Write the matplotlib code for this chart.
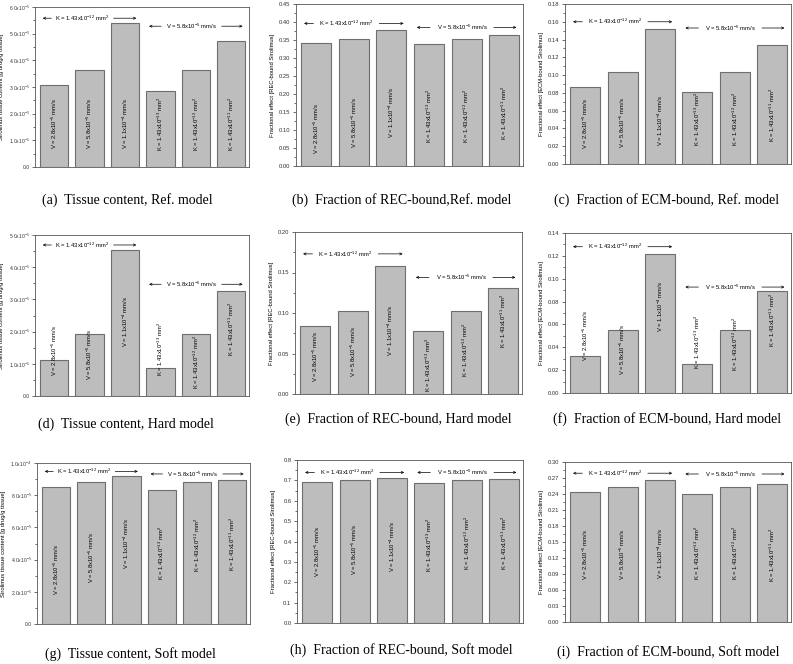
import numpy as np
import matplotlib
matplotlib.use("Agg")
import matplotlib.pyplot as plt
from matplotlib.ticker import FuncFormatter, MultipleLocator, AutoMinorLocator

plt.rcParams['font.family'] = ['Liberation Sans', 'DejaVu Sans']
plt.rcParams['mathtext.default'] = 'regular'

# bar labels (same order in every panel)
bar_labels = [r'V = 2.8x10$^{-5}$ mm/s', r'V = 5.8x10$^{-5}$ mm/s', r'V = 1.1x10$^{-4}$ mm/s',
              r'K = 1.43x10$^{-13}$ mm$^2$', r'K = 1.43x10$^{-12}$ mm$^2$', r'K = 1.43x10$^{-11}$ mm$^2$']
k_text = r'K = 1.43x10$^{-12}$ mm$^2$'
v_text = r'V = 5.8x10$^{-5}$ mm/s'

# values
tissue_ref = [3.07e-5, 3.65e-5, 5.40e-5, 2.84e-5, 3.65e-5, 4.71e-5]
rec_ref = [0.343, 0.353, 0.378, 0.340, 0.353, 0.365]
ecm_ref = [0.0868, 0.104, 0.1516, 0.0808, 0.104, 0.1336]
tissue_hard = [1.12e-5, 1.92e-5, 4.54e-5, 0.88e-5, 1.92e-5, 3.26e-5]
rec_hard = [0.0841, 0.1027, 0.158, 0.078, 0.1027, 0.1307]
ecm_hard = [0.032, 0.0548, 0.122, 0.0254, 0.0548, 0.0895]
tissue_soft = [8.49e-5, 8.80e-5, 9.21e-5, 8.32e-5, 8.80e-5, 8.96e-5]
rec_soft = [0.693, 0.702, 0.711, 0.689, 0.702, 0.705]
ecm_soft = [0.244, 0.254, 0.266, 0.240, 0.254, 0.258]

ylab_tissue = 'Sirolimus tissue content [g drug/g tissue]'
ylab_rec = 'Fractional effect [REC-bound Sirolimus]'
ylab_ecm = 'Fractional effect [ECM-bound Sirolimus]'

captions = ['(a)  Tissue content, Ref. model', '(b)  Fraction of REC-bound,Ref. model',
            '(c)  Fraction of ECM-bound, Ref. model', '(d)  Tissue content, Hard model',
            '(e)  Fraction of REC-bound, Hard model', '(f)  Fraction of ECM-bound, Hard model',
            '(g)  Tissue content, Soft model', '(h)  Fraction of REC-bound, Soft model',
            '(i)  Fraction of ECM-bound, Soft model']


def sci_fmt(v, pos):
    if v <= 1e-12:
        return '0.0' if abs(v) < 1e-12 else ''
    e = int(np.floor(np.log10(v) + 1e-9))
    return f'{v / 10**e:.1f}x10$^{{{e}}}$'


# panel settings: data, ylabel, ymax, step, formatter, K arrow y, V arrow y, label heights (axes frac)
panels = [
    (tissue_ref, ylab_tissue, 6e-5, 1e-5, 'sci', 5.58e-5, 5.28e-5, [0.27] * 6),
    (rec_ref, ylab_rec, 0.45, 0.05, '{x:.2f}', 0.396, 0.385, [0.23, 0.27, 0.33, 0.31, 0.31, 0.33]),
    (ecm_ref, ylab_ecm, 0.18, 0.02, '{x:.2f}', 0.160, 0.153, [0.25, 0.26, 0.27, 0.28, 0.28, 0.31]),
    (tissue_hard, ylab_tissue, 5e-5, 1e-5, 'sci', 4.69e-5, 3.47e-5, [0.28, 0.26, 0.46, 0.29, 0.21, 0.42]),
    (rec_hard, ylab_rec, 0.20, 0.05, '{x:.2f}', 0.173, 0.144, [0.23, 0.26, 0.39, 0.18, 0.27, 0.45]),
    (ecm_hard, ylab_ecm, 0.14, 0.02, '{x:.2f}', 0.128, 0.0927, [0.36, 0.27, 0.54, 0.32, 0.31, 0.46]),
    (tissue_soft, ylab_tissue, 1e-4, 2e-5, 'sci', 0.948e-4, 0.932e-4, [0.34, 0.41, 0.50, 0.44, 0.49, 0.50]),
    (rec_soft, ylab_rec, 0.8, 0.1, '{x:.1f}', 0.739, 0.739, [0.44, 0.45, 0.47, 0.48, 0.49, 0.49]),
    (ecm_soft, ylab_ecm, 0.30, 0.03, '{x:.2f}', 0.279, 0.2775, [0.42, 0.42, 0.43, 0.43, 0.43, 0.42]),
]

# axes boxes in pixels (left, top, right, bottom) on a 793x664 canvas
boxes = [(35, 7, 249, 167), (296, 4, 523, 166), (565, 4, 791, 164),
         (35, 235, 249, 396), (295, 232, 522, 394), (565, 233, 791, 393),
         (37, 463, 250, 624), (297, 460, 523, 623), (565, 462, 791, 622)]
cap_pos = [(127, 200), (402, 200), (667, 200),
           (126, 424), (398, 419), (667, 419),
           (130, 654), (401, 650), (668, 652)]

W, H = 793, 664
fig = plt.figure(figsize=(W / 100, H / 100), dpi=100)

x = np.arange(1, 7)
fs = 4.2

for (vals, ylab, ymax, step, fmt, ky, vy, lab_h), (l, t, r, b), (cx, cy), cap in zip(panels, boxes, cap_pos, captions):
    ax = fig.add_axes([l / W, 1 - b / H, (r - l) / W, (b - t) / H])
    ax.bar(x, vals, width=0.8, color='#bdbdbd', edgecolor='#6e6e6e', linewidth=0.8)
    ax.set_xlim(0.46, 6.5)
    ax.set_ylim(0, ymax)
    ax.yaxis.set_major_locator(MultipleLocator(step))
    ax.yaxis.set_minor_locator(AutoMinorLocator(2))
    if fmt == 'sci':
        ax.yaxis.set_major_formatter(FuncFormatter(sci_fmt))
        tick_fs, lab_off = 3.6, 31
    else:
        ax.yaxis.set_major_formatter(fmt)
        tick_fs, lab_off = fs, 21
    ax.set_xticks([])
    ax.tick_params(axis='y', which='major', direction='out', length=2.5, width=0.5,
                   labelsize=tick_fs, pad=1.5, colors='#333333')
    ax.tick_params(axis='y', which='minor', direction='out', length=1.5, width=0.5, colors='#333333')
    for s in ax.spines.values():
        s.set_linewidth(0.6)
        s.set_color('#555555')
    ax.set_ylabel(ylab, fontsize=fs)
    ax.yaxis.set_label_coords(-lab_off / (r - l), 0.5)

    # rotated labels inside bars
    for xi, txt, h in zip(x, bar_labels, lab_h):
        ax.text(xi, h, txt, rotation=90, ha='center', va='center', fontsize=fs,
                transform=ax.get_xaxis_transform())

    # group annotations with arrows
    ap = dict(arrowstyle='->', lw=0.5, color='black', mutation_scale=4)
    ax.annotate('', xy=(0.6, ky), xytext=(1.0, ky), arrowprops=ap)
    ax.annotate('', xy=(3.4, ky), xytext=(2.6, ky), arrowprops=ap)
    ax.text(1.8, ky, k_text, ha='center', va='center', fontsize=fs)
    ax.annotate('', xy=(3.6, vy), xytext=(4.1, vy), arrowprops=ap)
    ax.annotate('', xy=(6.4, vy), xytext=(5.65, vy), arrowprops=ap)
    ax.text(4.88, vy, v_text, ha='center', va='center', fontsize=fs)

    fig.text(cx / W, 1 - cy / H, cap, ha='center', va='center', fontsize=10,
             family='Liberation Serif')

fig.savefig('out.png', dpi=100)
